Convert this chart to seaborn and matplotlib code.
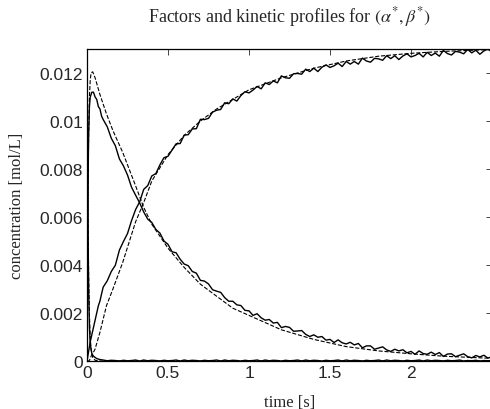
import numpy as np
import pandas as pd
import seaborn as sns
import matplotlib
matplotlib.use('Agg')
import matplotlib.pyplot as plt
from matplotlib.ticker import FuncFormatter

# measured profiles (noisy, solid lines)
t_early = [0, 0.005, 0.01, 0.015, 0.02, 0.03, 0.04, 0.05, 0.06, 0.07, 0.08, 0.09]
a_early = [0.0130, 0.0062, 0.0030, 0.0014, 0.0007, 0.0003, 0.0002, 0.00015, 0.0001, 0.00008, 0.00006, 0.00005]
b_early = [0, 0.0066, 0.0094, 0.0106, 0.0110, 0.0112, 0.0112, 0.0110, 0.0109, 0.0106, 0.0105, 0.0102]
c_early = [0, 0.0002, 0.0004, 0.0006, 0.0008, 0.0011, 0.0014, 0.0017, 0.0020, 0.0023, 0.0025, 0.0028]

t_late = np.round(np.arange(0.1, 2.5001, 0.025), 3)
b_late = [0.01006, 0.00976, 0.00928, 0.00897, 0.00842, 0.00813, 0.00775, 0.00724, 0.00691, 0.00659,
          0.00621, 0.00591, 0.00577, 0.00548, 0.00533, 0.00500, 0.00486, 0.00455, 0.00451, 0.00424,
          0.00404, 0.00397, 0.00373, 0.00366, 0.00336, 0.00333, 0.00321, 0.00297, 0.00291, 0.00286,
          0.00264, 0.00249, 0.00249, 0.00234, 0.00231, 0.00211, 0.00209, 0.00190, 0.00197, 0.00180,
          0.00170, 0.00173, 0.00158, 0.00161, 0.00139, 0.00144, 0.00140, 0.00124, 0.00125, 0.00127,
          0.00111, 0.00102, 0.00109, 0.00099, 0.00102, 0.00087, 0.00090, 0.00077, 0.00088, 0.00076,
          0.00071, 0.00078, 0.00067, 0.00073, 0.00055, 0.00063, 0.00063, 0.00049, 0.00054, 0.00059,
          0.00046, 0.00040, 0.00049, 0.00042, 0.00047, 0.00034, 0.00040, 0.00028, 0.00042, 0.00031,
          0.00028, 0.00037, 0.00027, 0.00035, 0.00019, 0.00029, 0.00030, 0.00018, 0.00024, 0.00030,
          0.00018, 0.00013, 0.00023, 0.00017, 0.00024, 0.00012, 0.00018]
c_late = [0.00308, 0.00334, 0.00373, 0.00399, 0.00462, 0.00498, 0.00531, 0.00585, 0.00631, 0.00663,
          0.00715, 0.00731, 0.00771, 0.00781, 0.00817, 0.00847, 0.00853, 0.00879, 0.00905, 0.00906,
          0.00941, 0.00943, 0.00967, 0.00968, 0.01007, 0.01006, 0.01011, 0.01037, 0.01045, 0.01048,
          0.01076, 0.01072, 0.01092, 0.01083, 0.01106, 0.01122, 0.01117, 0.01129, 0.01144, 0.01134,
          0.01159, 0.01152, 0.01167, 0.01159, 0.01188, 0.01180, 0.01178, 0.01197, 0.01198, 0.01195,
          0.01216, 0.01206, 0.01220, 0.01206, 0.01224, 0.01234, 0.01223, 0.01230, 0.01241, 0.01227,
          0.01248, 0.01237, 0.01248, 0.01237, 0.01262, 0.01250, 0.01245, 0.01261, 0.01259, 0.01253,
          0.01272, 0.01260, 0.01272, 0.01256, 0.01271, 0.01280, 0.01267, 0.01273, 0.01282, 0.01267,
          0.01286, 0.01273, 0.01283, 0.01270, 0.01294, 0.01281, 0.01275, 0.01290, 0.01287, 0.01280,
          0.01298, 0.01284, 0.01295, 0.01278, 0.01292, 0.01300, 0.01287]
a_late = [0.00004, 0.00001, 0.00003, 0.00002, 0.00000, 0.00003, 0.00001, 0.00002, 0.00004, 0.00000] * 9 + \
         [0.00002, 0.00001, 0.00003, 0.00000, 0.00002, 0.00001, 0.00002]

# fitted profiles (dashed lines)
t_fit = [0, 0.005, 0.01, 0.015, 0.02, 0.025, 0.035, 0.05, 0.08, 0.12, 0.16, 0.22, 0.3, 0.35,
         0.4, 0.5, 0.6, 0.7, 0.8, 0.9, 1.0, 1.2, 1.4, 1.6, 1.8, 2.0, 2.2, 2.5]
a_fit = [0.0133, 0.0070, 0.0037, 0.0019, 0.0010, 0.0005, 0.00015, 0.00003, 0, 0, 0, 0, 0, 0,
         0, 0, 0, 0, 0, 0, 0, 0, 0, 0, 0, 0, 0, 0]
b_fit = [0, 0.0062, 0.0094, 0.0110, 0.0117, 0.0120, 0.01205, 0.0118, 0.0111, 0.0103, 0.0096, 0.0087, 0.0073, 0.0064,
         0.0057, 0.0047, 0.0039, 0.0032, 0.0027, 0.0022, 0.0019, 0.0013, 0.0009, 0.0006, 0.00042, 0.0003, 0.0002, 0.00011]
c_fit = [0, 0, 0, 0.00003, 0.0001, 0.0002, 0.0003, 0.0005, 0.0012, 0.0023, 0.0030, 0.0041, 0.0058, 0.0066,
         0.0075, 0.0086, 0.0094, 0.0100, 0.0105, 0.0109, 0.0113, 0.0118, 0.0122, 0.0125, 0.0127, 0.01282, 0.0129, 0.01298]

sns.set_style('white')
plt.rcParams['font.family'] = ['Liberation Serif', 'DejaVu Serif']
plt.rcParams['mathtext.fontset'] = 'stix'

fig = plt.figure(figsize=(4.9, 4.1), dpi=100)
ax = fig.add_axes([87 / 490, 48 / 410, 405 / 490, 312 / 410])

t_meas = np.concatenate([t_early, t_late])
for early, late in [(a_early, a_late), (b_early, b_late), (c_early, c_late)]:
    sns.lineplot(x=t_meas, y=np.concatenate([early, late]), ax=ax, color='k', lw=1.0,
                 estimator=None, sort=False)
for fit in [a_fit, b_fit, c_fit]:
    sns.lineplot(x=t_fit, y=fit, ax=ax, color='k', lw=0.8, linestyle='--',
                 estimator=None, sort=False)

ax.set_xlim(0, 2.5)
ax.set_ylim(0, 0.013)
ax.set_xticks([0, 0.5, 1, 1.5, 2])
ax.set_yticks([0, 0.002, 0.004, 0.006, 0.008, 0.01, 0.012])
fmt = FuncFormatter(lambda v, p: '%g' % v)
ax.xaxis.set_major_formatter(fmt)
ax.yaxis.set_major_formatter(fmt)
ax.tick_params(direction='in', top=True, right=True, length=4, width=0.6, labelsize=12.5, pad=3)
for lab in ax.get_xticklabels() + ax.get_yticklabels():
    lab.set_family('Liberation Sans')
for s in ax.spines.values():
    s.set_linewidth(0.9)
    s.set_color('k')

ax.set_xlabel('time [s]', fontsize=12, labelpad=10)
ax.set_ylabel('concentration [mol/L]', fontsize=12, labelpad=10)
ax.set_title(r'Factors and kinetic profiles for $(\alpha^{*},\beta^{*})$', fontsize=13, pad=20)

fig.savefig('out.png', dpi=100)
